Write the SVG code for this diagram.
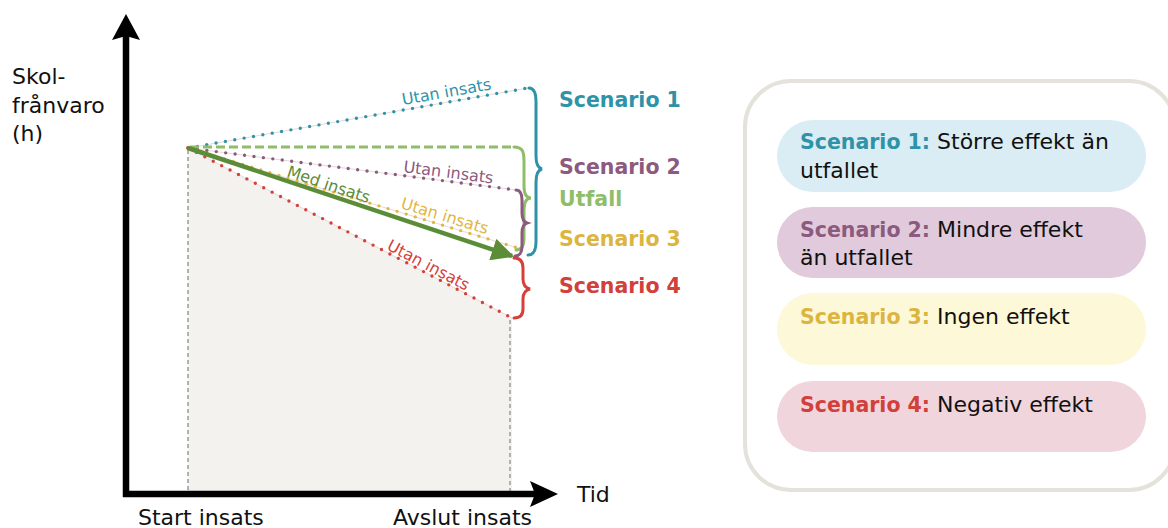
<svg xmlns="http://www.w3.org/2000/svg" width="1168" height="528" viewBox="0 0 1168 528">
<style>
text{font-family:"DejaVu Sans","Liberation Sans",sans-serif;}
.ax{font-size:22px;fill:#111;}
.lbl{font-size:16px;}
.sc{font-size:20.5px;font-weight:bold;}
.lg{font-size:22px;fill:#111;}
.lgs{font-size:20.5px;font-weight:bold;}
.dot{fill:none;stroke-width:3.4;stroke-dasharray:0 9.5;stroke-linecap:round;}
.thin{fill:none;stroke:#e6d9d9;stroke-width:1;}
.brace{fill:none;stroke-width:3;stroke-linecap:round;}
.gd{fill:none;stroke:#9a9a9a;stroke-width:1.5;stroke-dasharray:4 3;}
</style>
<defs>
<marker id="ah" viewBox="0 0 10 10" refX="9" refY="5" markerWidth="5" markerHeight="5" orient="auto" markerUnits="strokeWidth">
<path d="M0,0 L10,5 L0,10 z" fill="#5b8c37"/>
</marker>
</defs>
<rect width="1168" height="528" fill="#fff"/>

<g id="chart">
<polygon points="188,148 512,318 512,494 188,494" fill="#f3f2ef"/>
<line class="gd" x1="188" y1="150" x2="188" y2="492"/>
<line class="gd" x1="510" y1="320" x2="510" y2="492"/>
</g>

<g id="connectors">
<line class="thin" x1="188" y1="148" x2="528" y2="88"/>
<line class="dot" stroke="#2f93a8" x1="188" y1="148" x2="528" y2="88"/>
<line class="thin" x1="188" y1="148" x2="516" y2="190"/>
<line class="dot" stroke="#8c5a7e" x1="188" y1="148" x2="516" y2="190"/>
<line class="thin" x1="188" y1="148" x2="518" y2="248"/>
<line class="dot" stroke="#e0b743" x1="188" y1="148" x2="518" y2="248"/>
<line class="thin" x1="188" y1="148" x2="512" y2="318"/>
<line class="dot" stroke="#d5403a" x1="188" y1="148" x2="512" y2="318"/>
<path d="M190,147 L514,147" fill="none" stroke="#8fbd6a" stroke-width="3" stroke-dasharray="9 4"/>
<path class="brace" stroke="#8fbd6a" d="M514,147 C523,147 524,152 524,162 L524,186 C524,194 526,198 531,198 C526,198 524,202 524,210 L524,238 C524,246 521,250 516,250"/>
<line x1="188" y1="148" x2="512" y2="256" stroke="#5b8c37" stroke-width="4.5" marker-end="url(#ah)"/>
<path class="brace" stroke="#2f93a8" d="M529,88 C534,88 536,93 536,102 L536,156 C536,164 538,168 542,169 C538,170 536,174 536,182 L536,242 C536,251 533,255 528,255"/>
<path class="brace" stroke="#8c5a7e" d="M516,190 C520,190 522,193 522,200 L522,213 C522,219 524,222 527,223 C524,224 522,227 522,233 L522,247 C522,253 519,256 515,256"/>
<path class="brace" stroke="#d5403a" d="M514,258 C520,258 523,261 523,268 L523,279 C523,285 526,288 530,289 C526,290 523,293 523,299 L523,309 C523,315 520,318 514,318"/>
</g>

<g id="axes">
<line x1="126" y1="36" x2="126" y2="497" stroke="#000" stroke-width="6.5"/>
<polygon points="126,14 140,40 126,36 112,40" fill="#000"/>
<line x1="123" y1="494" x2="536" y2="494" stroke="#000" stroke-width="6.5"/>
<polygon points="558,494 530,507 535,494 530,481" fill="#000"/>
<text class="ax" x="12" y="84">Skol-</text>
<text class="ax" x="12" y="113">frånvaro</text>
<text class="ax" x="12" y="141">(h)</text>
<text class="ax" x="577" y="502">Tid</text>
<text class="ax" x="138" y="525">Start insats</text>
<text class="ax" x="393" y="525">Avslut insats</text>
</g>

<g id="line-labels">
<text class="lbl" fill="#2f93a8" transform="translate(403,105) rotate(-10)">Utan insats</text>
<text class="lbl" fill="#8c5a7e" transform="translate(403,172) rotate(7.3)">Utan insats</text>
<text class="lbl" fill="#5b8c37" transform="translate(286,176) rotate(18.4)">Med insats</text>
<text class="lbl" fill="#e0b743" transform="translate(400,208) rotate(16.9)">Utan insats</text>
<text class="lbl" fill="#d5403a" transform="translate(386,249) rotate(27.7)">Utan insats</text>
</g>

<g id="scenario-labels">
<text class="sc" x="559" y="107" fill="#2f93a8">Scenario 1</text>
<text class="sc" x="559" y="174" fill="#8c5a7e">Scenario 2</text>
<text class="sc" x="559" y="206" fill="#8fbd6a">Utfall</text>
<text class="sc" x="559" y="246" fill="#dcb540">Scenario 3</text>
<text class="sc" x="559" y="293" fill="#d1403b">Scenario 4</text>
</g>

<g id="legend">
<rect x="745" y="81" width="430" height="409" rx="46" fill="#fff" stroke="#e4e2da" stroke-width="4"/>
<g id="legend-1">
<rect x="777" y="120" width="369" height="72" rx="36" fill="#daecf4"/>
<text class="lg" x="800" y="149"><tspan class="lgs" fill="#2f93a8">Scenario 1:</tspan> Större effekt än</text>
<text class="lg" x="800" y="178">utfallet</text>
</g>
<g id="legend-2">
<rect x="777" y="207" width="369" height="71" rx="35.5" fill="#e0cadb"/>
<text class="lg" x="800" y="237"><tspan class="lgs" fill="#8c5a7e">Scenario 2:</tspan> Mindre effekt</text>
<text class="lg" x="800" y="265">än utfallet</text>
</g>
<g id="legend-3">
<rect x="777" y="293" width="369" height="72" rx="36" fill="#fcf8d8"/>
<text class="lg" x="800" y="324"><tspan class="lgs" fill="#dcb540">Scenario 3:</tspan> Ingen effekt</text>
</g>
<g id="legend-4">
<rect x="777" y="381" width="369" height="71" rx="35.5" fill="#f0d6dc"/>
<text class="lg" x="800" y="412"><tspan class="lgs" fill="#d1403b">Scenario 4:</tspan> Negativ effekt</text>
</g>
</g>
</svg>
